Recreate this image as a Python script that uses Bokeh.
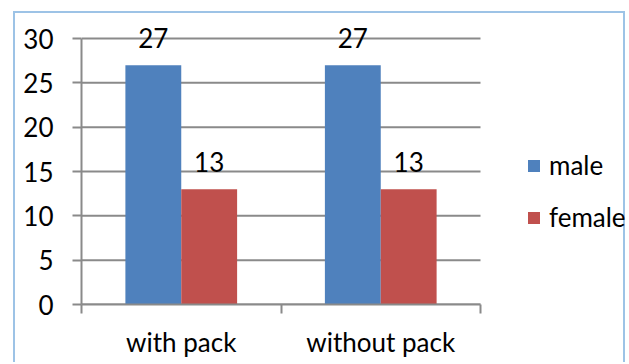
from bokeh.plotting import figure
from bokeh.models import (ColumnDataSource, Range1d, FixedTicker, LinearAxis,
                          Legend, LegendItem)
from bokeh.transform import dodge
from bokeh.core.properties import value
from bokeh.embed import file_html
from bokeh.resources import INLINE

categories = ["with pack", "without pack"]
male = [27, 27]
female = [13, 13]
y_ticks = [0, 5, 10, 15, 20, 25, 30]

FONT = "Lato"
FS = "26px"
GRID = "#8a8a8a"
BLUE = "#4F81BD"
RED = "#C0504D"

n = len(categories)
pos = [i + 0.5 for i in range(n)]
src = ColumnDataSource(dict(
    x=pos, male=male, female=female,
    male_txt=[str(v) for v in male], female_txt=[str(v) for v in female],
))
gsrc = ColumnDataSource(dict(y=y_ticks, x0=[0] * len(y_ticks), x1=[n] * len(y_ticks)))

# frame spans 546 px; the category area spans 399 px of it
p = figure(width=612, height=351, output_backend="svg", toolbar_location=None,
           x_range=Range1d(0, n * 546 / 399), y_range=Range1d(0, 32.6),
           x_axis_type=None, y_axis_type=None,
           min_border_left=66, min_border_right=0, min_border_top=2,
           min_border_bottom=60,
           margin=(11, 0, 0, 13),
           styles={"border-left": "2px solid #9DC3E6",
                   "border-top": "2px solid #9DC3E6",
                   "border-right": "2px solid #9DC3E6"})
p.outline_line_color = None
p.background_fill_color = "white"
p.border_fill_color = "white"

# gridlines limited to the category area
p.segment(x0="x0", x1="x1", y0="y", y1="y", source=gsrc,
          line_color=GRID, line_width=2)

# y axis
yax = LinearAxis(ticker=FixedTicker(ticks=y_ticks, minor_ticks=[]), bounds=(0, 30))
yax.axis_line_color = GRID
yax.axis_line_width = 2
yax.major_tick_line_color = GRID
yax.major_tick_line_width = 2
yax.major_tick_out = 9
yax.major_tick_in = 0
yax.minor_tick_line_color = None
yax.major_label_standoff = 19
yax.major_label_text_font = FONT
yax.major_label_text_font_size = FS
yax.major_label_text_color = "black"
p.add_layout(yax, "left")

# x axis
xax = LinearAxis(ticker=FixedTicker(ticks=pos, minor_ticks=list(range(n + 1))),
                 bounds=(0, n))
xax.major_label_overrides = {pp: c for pp, c in zip(pos, categories)}
xax.axis_line_color = GRID
xax.axis_line_width = 2
xax.major_tick_line_color = None
xax.major_tick_out = 0
xax.major_tick_in = 0
xax.minor_tick_line_color = GRID
xax.minor_tick_line_width = 2
xax.minor_tick_out = 9
xax.minor_tick_in = 0
xax.major_label_standoff = 12
xax.major_label_text_font = FONT
xax.major_label_text_font_size = FS
xax.major_label_text_color = "black"
p.add_layout(xax, "below")

r_m = p.vbar(x=dodge("x", -0.14), top="male", width=0.28, source=src,
             fill_color=BLUE, line_color=None)
r_f = p.vbar(x=dodge("x", 0.14), top="female", width=0.28, source=src,
             fill_color=RED, line_color=None)

p.text(x=dodge("x", -0.14), y="male", text="male_txt", source=src,
       text_align="center", text_baseline="alphabetic", y_offset=-27,
       text_font=value(FONT), text_font_size=FS, text_color="black")
p.text(x=dodge("x", 0.14), y="female", text="female_txt", source=src,
       text_align="center", text_baseline="alphabetic", y_offset=-27,
       text_font=value(FONT), text_font_size=FS, text_color="black")

legend = Legend(items=[LegendItem(label="male", renderers=[r_m]),
                       LegendItem(label="female", renderers=[r_f])],
                location=(445, 71))
legend.margin = 0
legend.padding = 0
legend.border_line_color = None
legend.background_fill_alpha = 0
legend.glyph_width = 15
legend.glyph_height = 15
legend.label_standoff = 8
legend.label_height = 20
legend.spacing = 20
legend.label_text_font = FONT
legend.label_text_font_size = FS
legend.label_text_color = "black"
p.add_layout(legend, "center")

open("out.html", "w").write(file_html(p, INLINE))
